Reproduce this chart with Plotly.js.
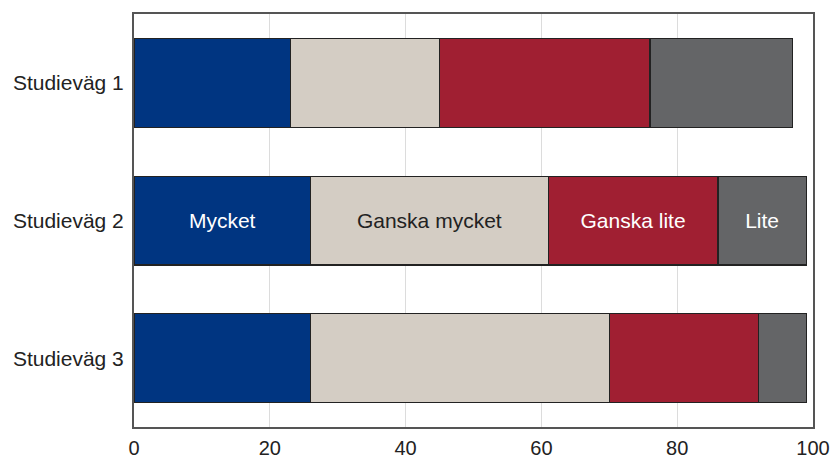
<!DOCTYPE html>
<html>
<head>
<meta charset="utf-8">
<script src="https://cdn.plot.ly/plotly-3.0.1.min.js"></script>
<style>html,body{margin:0;padding:0;background:#fff;}#chart{width:831px;height:458px;}</style>
</head>
<body>
<div id="chart"></div>
<script>
const categories = ['Studieväg 1', 'Studieväg 2', 'Studieväg 3'];
const seriesNames = ['Mycket', 'Ganska mycket', 'Ganska lite', 'Lite'];
const mycket = [23, 26, 26];
const ganskaMycket = [22, 35, 44];
const ganskaLite = [31, 25, 22];
const lite = [21, 13, 7];
const labelledCategory = 'Studieväg 2';
const xTicks = [0, 20, 40, 60, 80, 100];

const seriesValues = [mycket, ganskaMycket, ganskaLite, lite];
const colors = ['#003581', '#d4cdc4', '#a01f32', '#646567'];
const textColors = ['#ffffff', '#222222', '#ffffff', '#ffffff'];

const traces = seriesValues.map((vals, i) => ({
  type: 'bar',
  orientation: 'h',
  name: seriesNames[i],
  y: categories,
  x: vals,
  text: categories.map(c => c === labelledCategory ? seriesNames[i] : ''),
  textposition: 'inside',
  insidetextanchor: 'middle',
  constraintext: 'none',
  textfont: {family: 'Liberation Sans, Arial, sans-serif', size: 21, color: textColors[i]},
  marker: {color: colors[i], line: {color: '#222222', width: 1.2}},
  hoverinfo: 'skip'
}));

const layout = {
  width: 831, height: 458,
  margin: {l: 134, r: 18, t: 14, b: 31},
  barmode: 'stack',
  bargap: 0.355,
  showlegend: false,
  paper_bgcolor: '#ffffff',
  plot_bgcolor: '#ffffff',
  font: {family: 'Liberation Sans, Arial, sans-serif', size: 21, color: '#222222'},
  xaxis: {
    range: [0, 100], tickvals: xTicks, ticktext: xTicks.map(String),
    showgrid: true, gridcolor: '#dcdcdc', gridwidth: 1,
    zeroline: false, showline: true, mirror: true, linecolor: '#555555', linewidth: 2,
    ticks: '', ticklabelstandoff: 2, tickfont: {size: 20}, fixedrange: true
  },
  yaxis: {
    autorange: 'reversed', type: 'category',
    showgrid: false, zeroline: false, showline: true, mirror: true,
    linecolor: '#555555', linewidth: 2, ticks: '', ticklabelstandoff: 4, fixedrange: true
  }
};

Plotly.newPlot('chart', traces, layout, {staticPlot: true, displayModeBar: false});
</script>
</body>
</html>
